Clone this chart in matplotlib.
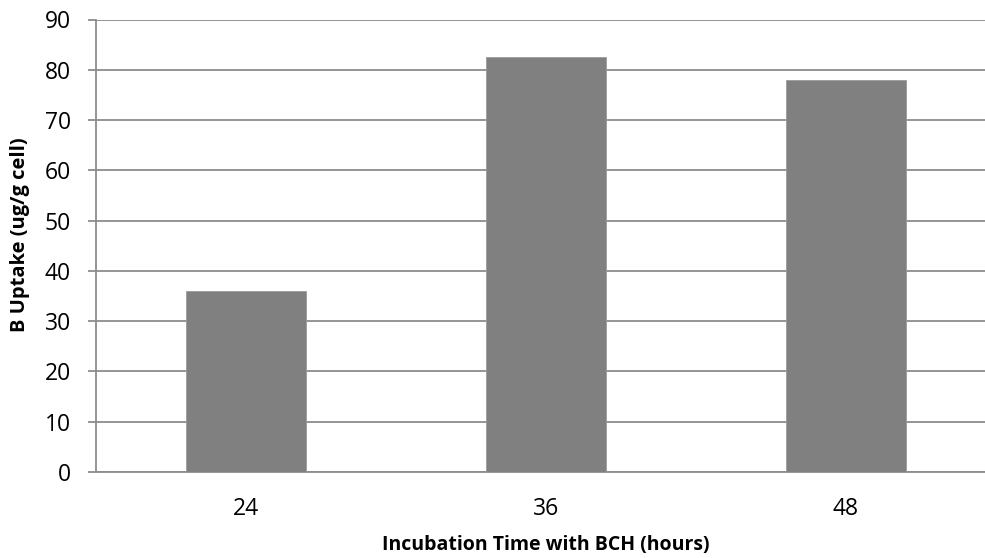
import matplotlib
matplotlib.use("Agg")
import matplotlib.pyplot as plt

categories = ["24", "36", "48"]
uptake = [36.0, 82.5, 78.0]
y_ticks = [0, 10, 20, 30, 40, 50, 60, 70, 80, 90]

plt.rcParams["font.family"] = ["Open Sans", "DejaVu Sans"]

W, H = 985, 558
fig = plt.figure(figsize=(W / 100, H / 100), dpi=100)
left, right, top, bottom = 96, 996, 19.5, 472
ax = fig.add_axes([left / W, 1 - bottom / H, (right - left) / W, (bottom - top) / H])

x = range(len(categories))
ax.bar(x, uptake, width=0.4, color="#808080", edgecolor="#9a9a9a", linewidth=0.6, zorder=3)

ax.set_xlim(-0.5, len(categories) - 0.5)
ax.set_ylim(0, 90)
ax.set_yticks(y_ticks)
ax.set_xticks(list(x))
ax.set_xticklabels(categories)
ax.yaxis.grid(True, color="#8c8c8c", linewidth=1.3, zorder=0)
ax.set_axisbelow(True)

for side in ("top", "right"):
    ax.spines[side].set_visible(False)
for side in ("left", "bottom"):
    ax.spines[side].set_color("#8c8c8c")
    ax.spines[side].set_linewidth(1.3)

ax.tick_params(axis="y", length=6, width=1.3, color="#8c8c8c", labelsize=16.5, pad=12)
ax.tick_params(axis="x", length=0, labelsize=16.5, pad=18)

fig.text(20 / W, 1 - 235 / H, "B Uptake (ug/g cell)", rotation=90, ha="center", va="center",
         fontsize=14.5, fontweight="bold")
fig.text(546 / W, 1 - 545 / H, "Incubation Time with BCH (hours)", ha="center", va="center",
         fontsize=14, fontweight="bold")

fig.savefig("out.png", dpi=100)
